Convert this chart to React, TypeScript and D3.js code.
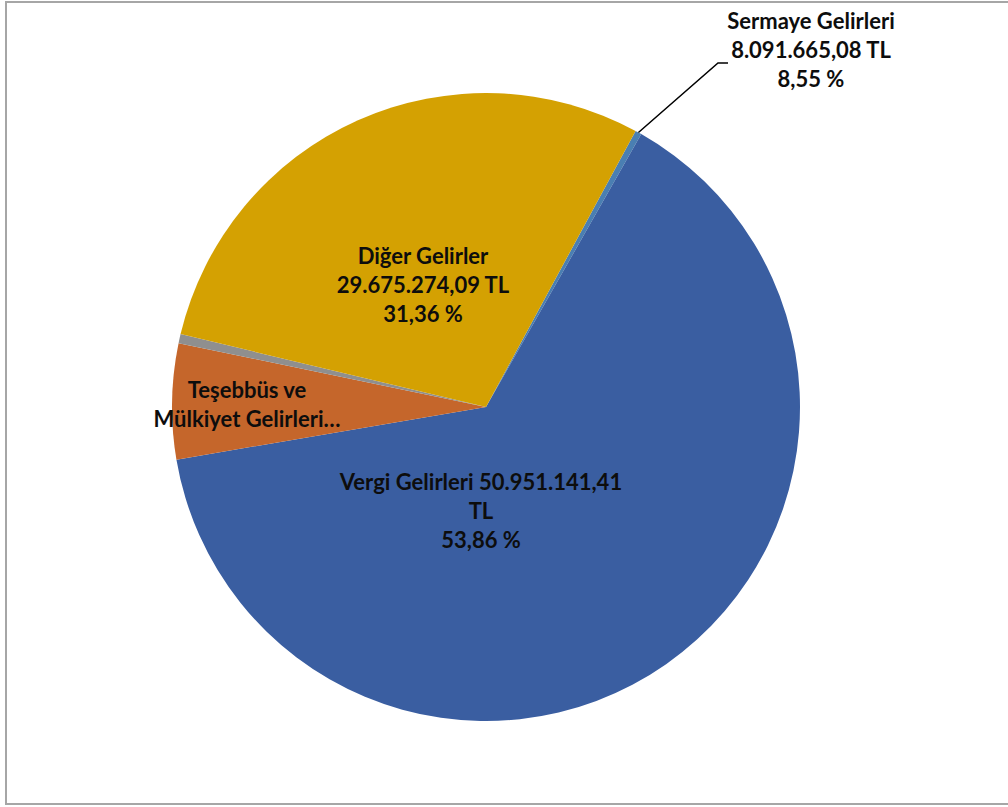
import { useEffect, useRef } from "react";
import * as d3 from "d3";

// slice shares as drawn (percent of the circle), clockwise from the Sermaye slice
const categories = [
  "Sermaye Gelirleri",
  "Vergi Gelirleri",
  "Teşebbüs ve Mülkiyet Gelirleri",
  "Alınan Bağış ve Yardımlar",
  "Diğer Gelirler",
];
const sliceShares = [0.33, 64.1, 5.94, 0.47, 29.18];
const sliceColors = ["#4a7fb2", "#3a5ea1", "#c5662b", "#8f8f8f", "#d4a102"];

// data label texts, as printed on the chart
const labelLines: string[][] = [
  ["Sermaye Gelirleri", "8.091.665,08 TL", "8,55 %"],
  ["Vergi Gelirleri 50.951.141,41", "TL", "53,86 %"],
  ["Teşebbüs ve", "Mülkiyet Gelirleri…"],
  [],
  ["Diğer Gelirler", "29.675.274,09 TL", "31,36 %"],
];

const W = 1008;
const H = 807;
const cx = 486;
const cy = 407;
const R = 314;
const startDeg = 28.45;
const lineH = 29;
// label anchor (center x, first baseline y) per slice
const labelPos: [number, number][] = [
  [811, 29],
  [481, 490],
  [247, 398],
  [0, 0],
  [423, 264],
];

export default function App(): JSX.Element {
  const ref = useRef<SVGSVGElement | null>(null);

  useEffect(() => {
    if (!ref.current) return;
    const svg = d3.select(ref.current);
    svg.selectAll("*").remove();

    svg
      .append("rect")
      .attr("x", 6)
      .attr("y", 2)
      .attr("width", W + 20)
      .attr("height", 802)
      .attr("fill", "#fff")
      .attr("stroke", "#a6a6a6")
      .attr("stroke-width", 2);

    const start = (startDeg * Math.PI) / 180;
    const pie = d3
      .pie<number>()
      .sort(null)
      .value((d) => d)
      .startAngle(start)
      .endAngle(start + 2 * Math.PI);
    const arcs = pie(sliceShares);
    const arc = d3.arc<d3.PieArcDatum<number>>().innerRadius(0).outerRadius(R);

    const g = svg.append("g").attr("transform", `translate(${cx},${cy})`);
    g.selectAll("path")
      .data(arcs)
      .join("path")
      .attr("d", arc)
      .attr("fill", (_, i) => sliceColors[i])
      .append("title")
      .text((_, i) => categories[i]);

    // leader line for the Sermaye label
    const a0 = arcs[0];
    const mid = (a0.startAngle + a0.endAngle) / 2;
    const p0: [number, number] = [cx + R * Math.sin(mid), cy - R * Math.cos(mid)];
    svg
      .append("path")
      .attr("d", d3.line()([p0, [718, 63], [728, 63]]))
      .attr("fill", "none")
      .attr("stroke", "#000")
      .attr("stroke-width", 1.5);

    const labels = svg
      .append("g")
      .attr("font-family", "Lato, 'Open Sans', sans-serif")
      .attr("font-weight", "bold")
      .attr("font-size", 22)
      .attr("fill", "#0d0d0d")
      .attr("text-anchor", "middle");

    labelLines.forEach((lines, i) => {
      if (!lines.length) return;
      const [lx, ly] = labelPos[i];
      const t = labels.append("text");
      lines.forEach((ln, j) => {
        t.append("tspan").attr("x", lx).attr("y", ly + j * lineH).text(ln);
      });
    });
  }, []);

  return (
    <svg
      ref={ref}
      width={W}
      height={H}
      style={{ position: "absolute", left: 0, top: 0, display: "block" }}
    />
  );
}
